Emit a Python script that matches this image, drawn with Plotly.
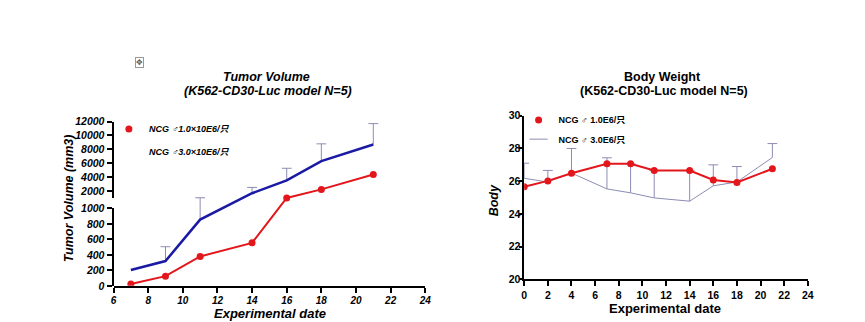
import plotly.graph_objects as go

W, H = 865, 322
FONT = "Liberation Sans, Arial, DejaVu Sans, Noto Sans CJK SC"

RED = "#e3161c"
BLUE = "#1a1aa4"
LAV = "#8c8cb4"

# ---- Tumor volume (mm3): group means and upper SD ----
tv_days = [7, 9, 11, 14, 16, 18, 21]
tv_low_mean = [25, 125, 380, 555, 1050, 2270, 4400]
tv_high_mean = [205, 320, 855, 1720, 3560, 6330, 8700]
tv_high_sd = [0, 185, 215, 835, 1740, 2470, 3000]
tv_lower_ticks = [0, 200, 400, 600, 800, 1000]
tv_upper_ticks = [2000, 4000, 6000, 8000, 10000, 12000]

# ---- Body weight (g): group means and upper SD ----
bw_days = [0, 2, 4, 7, 9, 11, 14, 16, 18, 21]
bw_low_mean = [25.66, 26.02, 26.49, 27.06, 27.06, 26.65, 26.65, 26.08, 25.92, 26.76]
bw_high_mean = [26.18, 25.95, 26.50, 25.53, 25.29, 24.98, 24.78, 25.72, 25.95, 27.45]
bw_high_sd = [0.92, 0.71, 1.50, 1.90, 1.77, 1.67, 1.87, 1.28, 0.95, 0.85]

tv_names = ["NCG ♂1.0×10E6/只", "NCG ♂3.0×10E6/只"]
bw_names = ["NCG ♂ 1.0E6/只", "NCG ♂ 3.0E6/只"]
title_sub = "(K562-CD30-Luc model N=5)"

# Broken y scale for the tumour panel: linear 0-1000, a gap, then compressed 1000-12000
BREAK, GAP, UPPER_K, TOP = 1000, 130, 0.09, 12000


def to_display(v):
    return v if v <= BREAK else BREAK + GAP + (v - BREAK) * UPPER_K


D_TOP = to_display(TOP)
Y_BOT, Y_TOP = 1 - 290.7 / H, 1 - 120 / H


def dom(d):
    return Y_BOT + (Y_TOP - Y_BOT) * d / D_TOP


def px(x):
    return x / W


def py(y):
    return 1 - y / H


fig = go.Figure()

# --- Tumour volume traces ---
hi_disp = [to_display(m) for m in tv_high_mean]
hi_err = [to_display(m + s) - to_display(m) for m, s in zip(tv_high_mean, tv_high_sd)]
fig.add_trace(go.Scatter(
    x=tv_days, y=hi_disp, mode="lines", showlegend=False,
    line=dict(color=BLUE, width=2.5), xaxis="x", yaxis="y",
    error_y=dict(type="data", symmetric=False, array=hi_err,
                 arrayminus=[0] * len(tv_days), width=0, color=LAV, thickness=1),
))
cap_x = [d for d, s in zip(tv_days, tv_high_sd) if s > 0]
cap_y = [to_display(m + s) for m, s in zip(tv_high_mean, tv_high_sd) if s > 0]
fig.add_trace(go.Scatter(
    x=cap_x, y=cap_y, mode="markers", showlegend=False, xaxis="x", yaxis="y",
    marker=dict(symbol="line-ew", size=7, line=dict(color=LAV, width=1)),
))
fig.add_trace(go.Scatter(
    x=tv_days, y=[to_display(m) for m in tv_low_mean], mode="lines+markers",
    showlegend=False, xaxis="x", yaxis="y",
    line=dict(color=RED, width=2), marker=dict(color=RED, size=7),
))
# empty traces so the two visible segments of the broken axis get drawn
for ya in ("y2", "y3"):
    fig.add_trace(go.Scatter(x=[None], y=[None], mode="markers", showlegend=False,
                             hoverinfo="skip", xaxis="x", yaxis=ya))

# --- Body weight traces ---
fig.add_trace(go.Scatter(
    x=bw_days, y=bw_high_mean, mode="lines", showlegend=False,
    line=dict(color=LAV, width=1), xaxis="x2", yaxis="y4",
    error_y=dict(type="data", symmetric=False, array=bw_high_sd,
                 arrayminus=[0] * len(bw_days), width=0, color=LAV, thickness=1),
))
fig.add_trace(go.Scatter(
    x=bw_days, y=[m + s for m, s in zip(bw_high_mean, bw_high_sd)], mode="markers",
    showlegend=False, xaxis="x2", yaxis="y4",
    marker=dict(symbol="line-ew", size=7, line=dict(color=LAV, width=1)),
))
fig.add_trace(go.Scatter(
    x=bw_days, y=bw_low_mean, mode="lines+markers", showlegend=False,
    xaxis="x2", yaxis="y4",
    line=dict(color=RED, width=2), marker=dict(color=RED, size=7),
))

# --- Legend entries ---
fig.add_trace(go.Scatter(x=[None], y=[None], mode="markers", name=tv_names[0],
                         marker=dict(color=RED, size=7), legend="legend",
                         xaxis="x", yaxis="y"))
fig.add_trace(go.Scatter(x=[None], y=[None], mode="lines", name=tv_names[1],
                         line=dict(color="rgba(0,0,0,0)"), legend="legend2",
                         xaxis="x", yaxis="y"))
fig.add_trace(go.Scatter(x=[None], y=[None], mode="markers", name=bw_names[0],
                         marker=dict(color=RED, size=7), legend="legend3",
                         xaxis="x2", yaxis="y4"))
fig.add_trace(go.Scatter(x=[None], y=[None], mode="markers", name=bw_names[1],
                         marker=dict(symbol="line-ew", size=13,
                                     line=dict(color=LAV, width=1)),
                         legend="legend4", xaxis="x2", yaxis="y4"))

tick_bi = dict(family=FONT, size=10.5, color="black", weight="bold", style="italic")
tick_b = dict(family=FONT, size=10.5, color="black", weight="bold")
common = dict(showgrid=False, zeroline=False, showline=True, linecolor="black",
              ticks="outside", tickcolor="black", tickwidth=1.5)


def leg(x, y, italic):
    f = dict(family=FONT, size=9, color="black", weight="bold")
    if italic:
        f["style"] = "italic"
    return dict(x=x, y=y, xanchor="left", yanchor="middle", bgcolor="rgba(0,0,0,0)",
                borderwidth=0, font=f, itemclick=False)


fig.update_layout(
    width=W, height=H, margin=dict(l=0, r=0, t=0, b=0),
    paper_bgcolor="white", plot_bgcolor="rgba(0,0,0,0)",
    font=dict(family=FONT, color="black"),
    xaxis=dict(domain=[px(111.7), px(426.7)], range=[6, 24], tick0=6, dtick=2,
               anchor="y", linewidth=2, ticklen=5, ticklabelstandoff=-1,
               tickfont=dict(tick_bi, size=10), **common),
    yaxis=dict(domain=[Y_BOT, Y_TOP], range=[0, D_TOP], visible=False, anchor="x"),
    yaxis2=dict(domain=[dom(0), dom(BREAK)], range=[0, BREAK], tickvals=tv_lower_ticks,
                anchor="x", linewidth=2, ticklen=5, tickfont=tick_bi,
                tickformat="d", **common),
    yaxis3=dict(domain=[dom(BREAK + GAP), dom(D_TOP)], range=[BREAK, TOP],
                tickvals=tv_upper_ticks, anchor="x", linewidth=2, ticklen=5,
                tickfont=tick_bi, tickformat="d", **common),
    xaxis2=dict(domain=[px(526.7), px(813.3)], range=[0, 24], tick0=0, dtick=2,
                anchor="y4", linewidth=1.5, ticklen=5, tickfont=tick_b, **common),
    yaxis4=dict(domain=[py(284), py(114)], range=[20, 30], tick0=20, dtick=2,
                anchor="x2", linewidth=1.5, ticklen=3, ticklabelstandoff=-3,
                tickfont=tick_b, **common),
    showlegend=True,
    legend=leg(px(107), py(127.7), True),
    legend2=leg(px(107), py(150.7), True),
    legend3=leg(px(521), py(118.3), False),
    legend4=leg(px(521), py(138.3), False),
)

title_bi = dict(family=FONT, size=12.5, color="black", weight="bold", style="italic")
title_b = dict(family=FONT, size=12.5, color="black", weight="bold")
notes = [
    ("Tumor Volume", 266.7, 74, title_bi, 0),
    (title_sub, 268, 88.3, title_bi, 0),
    ("Body Weight", 666.7, 73.3, title_b, 0),
    (title_sub, 668, 88.3, title_b, 0),
    ("Experimental date", 270, 319, dict(title_bi, size=13), 0),
    ("Experimental date", 669, 314, dict(title_b, size=13), 0),
    ("Tumor Volume (mm3)", 66.5, 200, title_bi, -90),
    ("Body", 497, 202, title_bi, -90),
]
for text, x, y, f, ang in notes:
    fig.add_annotation(text=text, x=px(x), y=py(y), xref="paper", yref="paper",
                       xanchor="center", yanchor="middle", showarrow=False,
                       font=f, textangle=ang)

# small move handle in the top-left corner
fig.add_annotation(text="✥", x=px(138), y=py(59), xref="paper", yref="paper",
                   xanchor="center", yanchor="middle", showarrow=False,
                   font=dict(family="DejaVu Sans", size=8, color="#555"),
                   bordercolor="#999", borderwidth=1, borderpad=0)

fig.write_html("out.html")
